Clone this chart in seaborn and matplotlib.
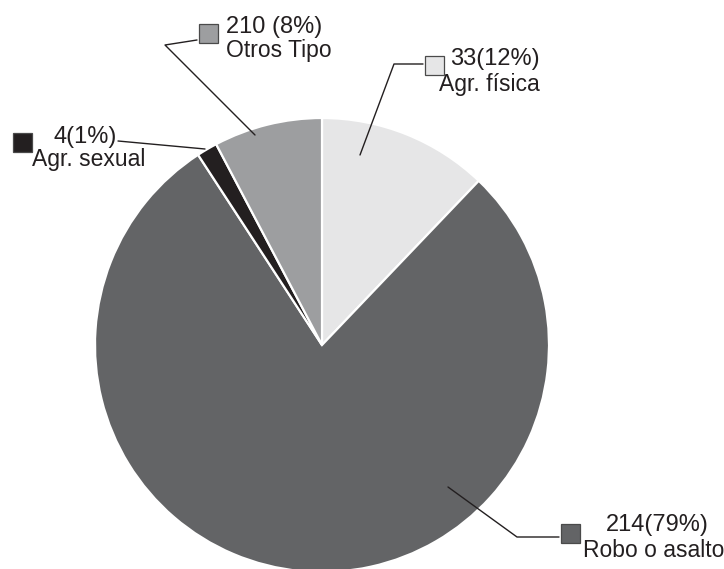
import matplotlib
matplotlib.use("Agg")
import matplotlib.pyplot as plt
from matplotlib.patches import Rectangle
import seaborn as sns

# data (slice order: clockwise from the top)
categories = ["Agr. física", "Robo o asalto", "Agr. sexual", "Otros Tipo"]
counts = [33, 214, 4, 21]
count_labels = ["33(12%)", "214(79%)", "4(1%)", "210 (8%)"]
slice_colors = ["#e6e6e7", "#636466", "#231f20", "#9d9ea0"]

W, H = 724, 569


def fy(py):
    # pixel row (from top) -> data y (from bottom)
    return H - py


sns.set_theme(style="white")
plt.rcParams['font.family'] = ['Liberation Sans', 'DejaVu Sans']

palette = sns.color_palette(slice_colors)

fig = plt.figure(figsize=(W / 100, H / 100), dpi=100)
ax = fig.add_axes([0, 0, 1, 1])

ax.pie(counts, colors=palette, startangle=90, counterclock=False,
       center=(322, fy(345)), radius=227,
       wedgeprops=dict(edgecolor="white", linewidth=1.6))

ax.set_xlim(0, W)
ax.set_ylim(0, H)
ax.set_aspect("equal")
ax.axis("off")

fs_count = 17
fs_cat = 16.5
sq = 19

# label layout: square centre, text lines, leader path (pixel coords)
layout = {
    "Otros Tipo": dict(square=(208, 33.5), ha="left",
                       line1=(226, 33), line2=(226, 57),
                       leader=[(197, 40), (165, 45), (255, 135)]),
    "Agr. física": dict(square=(434, 65), ha="right",
                        line1=(540, 65), line2=(540, 91),
                        leader=[(423, 64), (394, 64), (360, 155)]),
    "Agr. sexual": dict(square=(22, 142), ha="center",
                        line1=(85, 143), line2=(89, 166),
                        leader=[(118, 141), (205, 149)]),
    "Robo o asalto": dict(square=(570, 533), ha="center",
                          line1=(657, 531), line2=(654, 557),
                          leader=[(559, 537), (517, 537), (448, 487)]),
}

for cat, clabel, col in zip(categories, count_labels, palette):
    lay = layout[cat]
    sx, sy = lay["square"]
    ax.add_patch(Rectangle((sx - sq / 2, fy(sy) - sq / 2), sq, sq,
                           facecolor=col, edgecolor="#4a4a4a", linewidth=0.9,
                           zorder=5))
    x1, y1 = lay["line1"]
    x2, y2 = lay["line2"]
    ax.text(x1, fy(y1), clabel, ha=lay["ha"], va="baseline",
            fontsize=fs_count, color="#231f20")
    ax.text(x2, fy(y2), cat, ha=lay["ha"], va="baseline",
            fontsize=fs_cat, color="#231f20")
    xs = [p[0] for p in lay["leader"]]
    ys = [fy(p[1]) for p in lay["leader"]]
    ax.plot(xs, ys, color="#231f20", linewidth=1.0, zorder=4)

fig.savefig("out.png", dpi=100)
plt.close()
